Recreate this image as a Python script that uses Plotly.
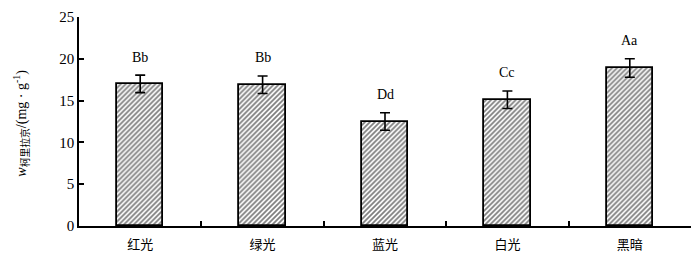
import plotly.graph_objects as go

categories = ["红光", "绿光", "蓝光", "白光", "黑暗"]
values = [17.0, 16.9, 12.5, 15.1, 18.9]
errors = [1.05, 1.05, 1.05, 1.05, 1.1]
letters = ["Bb", "Bb", "Dd", "Cc", "Aa"]
y_ticks = [0, 5, 10, 15, 20, 25]

serif = "Liberation Serif, Times New Roman, serif"
cjk = "Noto Sans CJK SC, Liberation Serif, serif"

fig = go.Figure()
fig.add_trace(go.Bar(
    x=categories, y=values, width=0.38,
    marker=dict(color="white", line=dict(color="black", width=1.8),
                pattern=dict(shape="/", fgcolor="black", bgcolor="white", size=3.5, solidity=0.5)),
    error_y=dict(type="data", array=errors, visible=True, color="black", thickness=1.6, width=5),
    showlegend=False,
))

for c, v, e, t in zip(categories, values, errors, letters):
    fig.add_annotation(x=c, y=v + e, text=t, showarrow=False, yshift=18,
                       font=dict(family=serif, size=14, color="black"))

fig.add_annotation(
    xref="paper", yref="paper", x=-0.093, y=0.49, xanchor="center", yanchor="middle",
    textangle=-90, showarrow=False,
    text="<i>w</i><sub><span style='font-family:Noto Sans CJK SC'>柯里拉京</span></sub>/(mg · g<sup>-1</sup>)",
    font=dict(family=serif, size=14, color="black"),
)

fig.update_layout(
    width=700, height=264,
    margin=dict(l=79, r=9, t=15, b=38),
    plot_bgcolor="white", paper_bgcolor="white",
    bargap=0,
    xaxis=dict(showline=True, linecolor="black", linewidth=1.5, ticks="inside",
               tickson="boundaries", ticklen=5, tickcolor="black", tickwidth=1.5,
               ticklabelstandoff=6,
               tickfont=dict(family=cjk, size=13, color="black"), showgrid=False),
    yaxis=dict(range=[0, 25], tickvals=y_ticks, showline=True, linecolor="black", linewidth=1.5,
               ticks="inside", ticklen=5, tickcolor="black", tickwidth=1.5,
               tickfont=dict(family=serif, size=15, color="black"), showgrid=False,
               zeroline=False),
)

fig.write_html("out.html", config={"displayModeBar": False},
               post_script="document.body.style.margin='0';document.body.style.overflow='hidden';")
